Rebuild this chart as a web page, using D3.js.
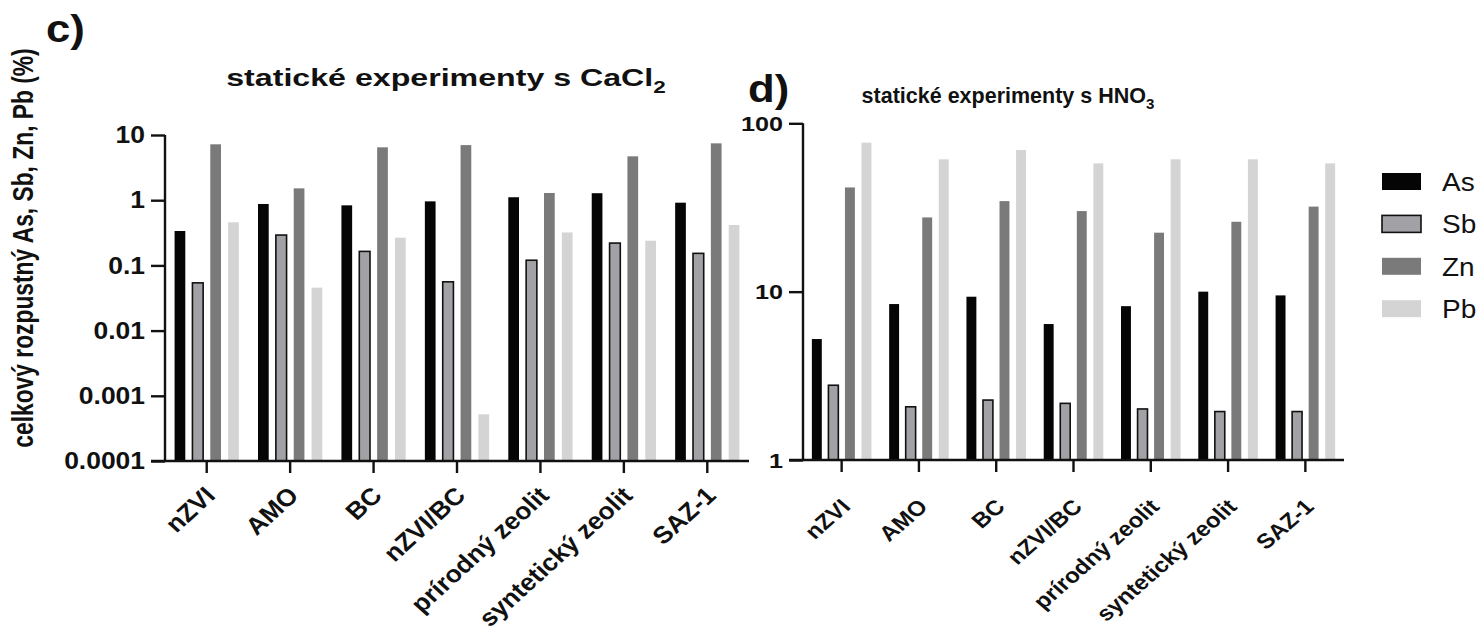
<!DOCTYPE html>
<html>
<head>
<meta charset="utf-8">
<script src="https://cdn.jsdelivr.net/npm/d3@7"></script>
<style>
  body { margin: 0; background: #fff; }
  text { font-family: "Liberation Sans", Arial, sans-serif; fill: #111; }
</style>
</head>
<body>
<div id="chart"></div>
<script>
const width = 1479;
const height = 635;

// materials on the x axis
const materials = ["nZVI", "AMO", "BC", "nZVI/BC", "prírodný zeolit", "syntetický zeolit", "SAZ-1"];
const elements = ["As", "Sb", "Zn", "Pb"];
const colors = ["#050505", "#a2a2a6", "#7a7a7a", "#d4d4d4"];

// c) static experiments with CaCl2 (%)
const cacl2As = [0.337, 0.875, 0.834, 0.96, 1.11, 1.28, 0.916];
const cacl2Sb = [0.054, 0.292, 0.164, 0.056, 0.12, 0.22, 0.153];
const cacl2Zn = [7.2, 1.52, 6.47, 7.0, 1.29, 4.71, 7.45];
const cacl2Pb = [0.458, 0.0456, 0.266, 0.00052, 0.32, 0.239, 0.417];

// d) static experiments with HNO3 (%)
const hno3As = [5.23, 8.44, 9.33, 6.42, 8.2, 10.0, 9.5];
const hno3Sb = [2.78, 2.07, 2.27, 2.17, 2.01, 1.94, 1.94];
const hno3Zn = [41.6, 27.6, 34.5, 30.1, 22.4, 26.0, 32.0];
const hno3Pb = [76.7, 61.1, 69.4, 57.8, 61.1, 61.1, 57.8];

const leftTicks = [0.0001, 0.001, 0.01, 0.1, 1, 10];
const leftTickLabels = ["0.0001", "0.001", "0.01", "0.1", "1", "10"];
const rightTicks = [1, 10, 100];
const rightTickLabels = ["1", "10", "100"];

const svg = d3.select("#chart").append("svg")
  .attr("width", width)
  .attr("height", height);

// the original figure is a bit stretched sideways, so text gets scaleX
function stretchedText(x, y, sx, rot) {
  return "translate(" + x + "," + y + ") scale(" + sx + ",1)" + (rot ? " rotate(" + rot + ")" : "");
}

function minorTicks(domain) {
  let out = [];
  for (let e = Math.log10(domain[0]); e < Math.log10(domain[1]); e++) {
    for (let m = 2; m <= 9; m++) out.push(m * Math.pow(10, e));
  }
  return out;
}

function drawPanel(opt) {
  const g = svg.append("g");
  const rows = materials.map((m, i) => ({ name: m, values: opt.series.map(s => s[i]) }));

  const x = d3.scaleBand().domain(materials).range(opt.xRange).padding(0);
  const y = d3.scaleLog().domain(opt.yDomain).range(opt.yRange);
  const inner = d3.scaleBand().domain(elements)
    .range([-x.bandwidth() * 0.428, x.bandwidth() * 0.428])
    .paddingInner(0.4).paddingOuter(0.2);

  // bars
  const grp = g.selectAll(".grp").data(rows).enter().append("g")
    .attr("transform", d => "translate(" + (x(d.name) + x.bandwidth() / 2) + ",0)");
  grp.selectAll("rect")
    .data(d => d.values.map((v, j) => ({ el: elements[j], v: v, j: j })))
    .enter().append("rect")
    .attr("x", d => inner(d.el))
    .attr("width", inner.bandwidth())
    .attr("y", d => y(d.v))
    .attr("height", d => opt.yRange[0] - y(d.v))
    .attr("fill", d => colors[d.j])
    .attr("stroke", d => d.el === "Sb" ? "#111" : "none")
    .attr("stroke-width", 1.6);

  // y axis, major + minor ticks
  const yAxisG = g.append("g").attr("transform", "translate(" + opt.xRange[0] + ",0)");
  yAxisG.call(d3.axisLeft(y).tickValues(minorTicks(opt.yDomain)).tickSize(6).tickFormat(""));
  yAxisG.call(d3.axisLeft(y).tickValues(opt.ticks).tickSize(14).tickFormat(""));
  yAxisG.selectAll("path, line").attr("stroke", "#111").attr("stroke-width", 2.4);
  yAxisG.select(".domain").attr("d", "M0," + opt.yRange[0] + "V" + opt.yRange[1]);

  g.selectAll(".ylab").data(opt.ticks).enter().append("text")
    .attr("transform", d => stretchedText(opt.xRange[0] - 20, y(d) + opt.yFont * 0.36, opt.ySx))
    .attr("text-anchor", "end")
    .style("font-size", opt.yFont + "px")
    .style("font-weight", "bold")
    .text((d, i) => opt.tickLabels[i]);

  // x axis
  const xAxisG = g.append("g").attr("transform", "translate(0," + opt.yRange[0] + ")");
  xAxisG.call(d3.axisBottom(x).tickSize(12).tickFormat(""));
  xAxisG.selectAll("path, line").attr("stroke", "#111").attr("stroke-width", 2.4);
  xAxisG.select(".domain").attr("d", "M" + (opt.xRange[0] - 14) + ",0H" + opt.xRange[1]);

  g.selectAll(".xlab").data(materials).enter().append("text")
    .attr("transform", d => stretchedText(x(d) + x.bandwidth() / 2 + 10, opt.yRange[0] + opt.xOff, opt.xSx, -45))
    .attr("text-anchor", "end")
    .style("font-size", opt.xFont + "px")
    .style("font-weight", "bold")
    .text(d => d);

  // title
  const t = g.append("text")
    .attr("transform", stretchedText(opt.titleX, opt.titleY, opt.titleSx))
    .attr("text-anchor", "middle")
    .style("font-size", opt.titleFont + "px")
    .style("font-weight", "bold");
  t.append("tspan").text(opt.title);
  t.append("tspan").attr("dy", opt.titleFont * 0.28).style("font-size", (opt.titleFont * 0.7) + "px").text(opt.sub);

  g.append("text")
    .attr("transform", stretchedText(opt.letterX, opt.letterY, 1.15))
    .style("font-size", "38px")
    .style("font-weight", "bold")
    .text(opt.letter);
}

drawPanel({
  series: [cacl2As, cacl2Sb, cacl2Zn, cacl2Pb],
  xRange: [165, 749], yRange: [461, 135], yDomain: [0.0001, 10],
  ticks: leftTicks, tickLabels: leftTickLabels, yFont: 23, ySx: 1.15,
  xFont: 24, xSx: 1.1, xOff: 36,
  title: "statické experimenty s CaCl", sub: "2", titleX: 446, titleY: 86,
  titleFont: 24, titleSx: 1.34,
  letter: "c)", letterX: 46, letterY: 42
});

drawPanel({
  series: [hno3As, hno3Sb, hno3Zn, hno3Pb],
  xRange: [803, 1344], yRange: [460, 123.3], yDomain: [1, 100],
  ticks: rightTicks, tickLabels: rightTickLabels, yFont: 21, ySx: 1.2,
  xFont: 21, xSx: 1.15, xOff: 48,
  title: "statické experimenty s HNO", sub: "3", titleX: 1008, titleY: 103,
  titleFont: 21.5, titleSx: 1.0,
  letter: "d)", letterX: 748, letterY: 102
});

// y axis title
svg.append("text")
  .attr("transform", "translate(33,248) scale(1.3,1) rotate(-90)")
  .attr("text-anchor", "middle")
  .style("font-size", "22.8px")
  .style("font-weight", "bold")
  .text("celkový rozpustný As, Sb, Zn, Pb (%)");

// legend
const legend = svg.append("g").attr("transform", "translate(1382,173)");
const li = legend.selectAll("g").data(elements).enter().append("g")
  .attr("transform", (d, i) => "translate(0," + i * 42.4 + ")");
li.append("rect")
  .attr("width", 39).attr("height", 17)
  .attr("fill", (d, i) => colors[i])
  .attr("stroke", d => d === "Sb" ? "#111" : "none")
  .attr("stroke-width", 1.6);
li.append("text")
  .attr("transform", stretchedText(60, 18, 1.12))
  .style("font-size", "25px")
  .text(d => d);
</script>
</body>
</html>
